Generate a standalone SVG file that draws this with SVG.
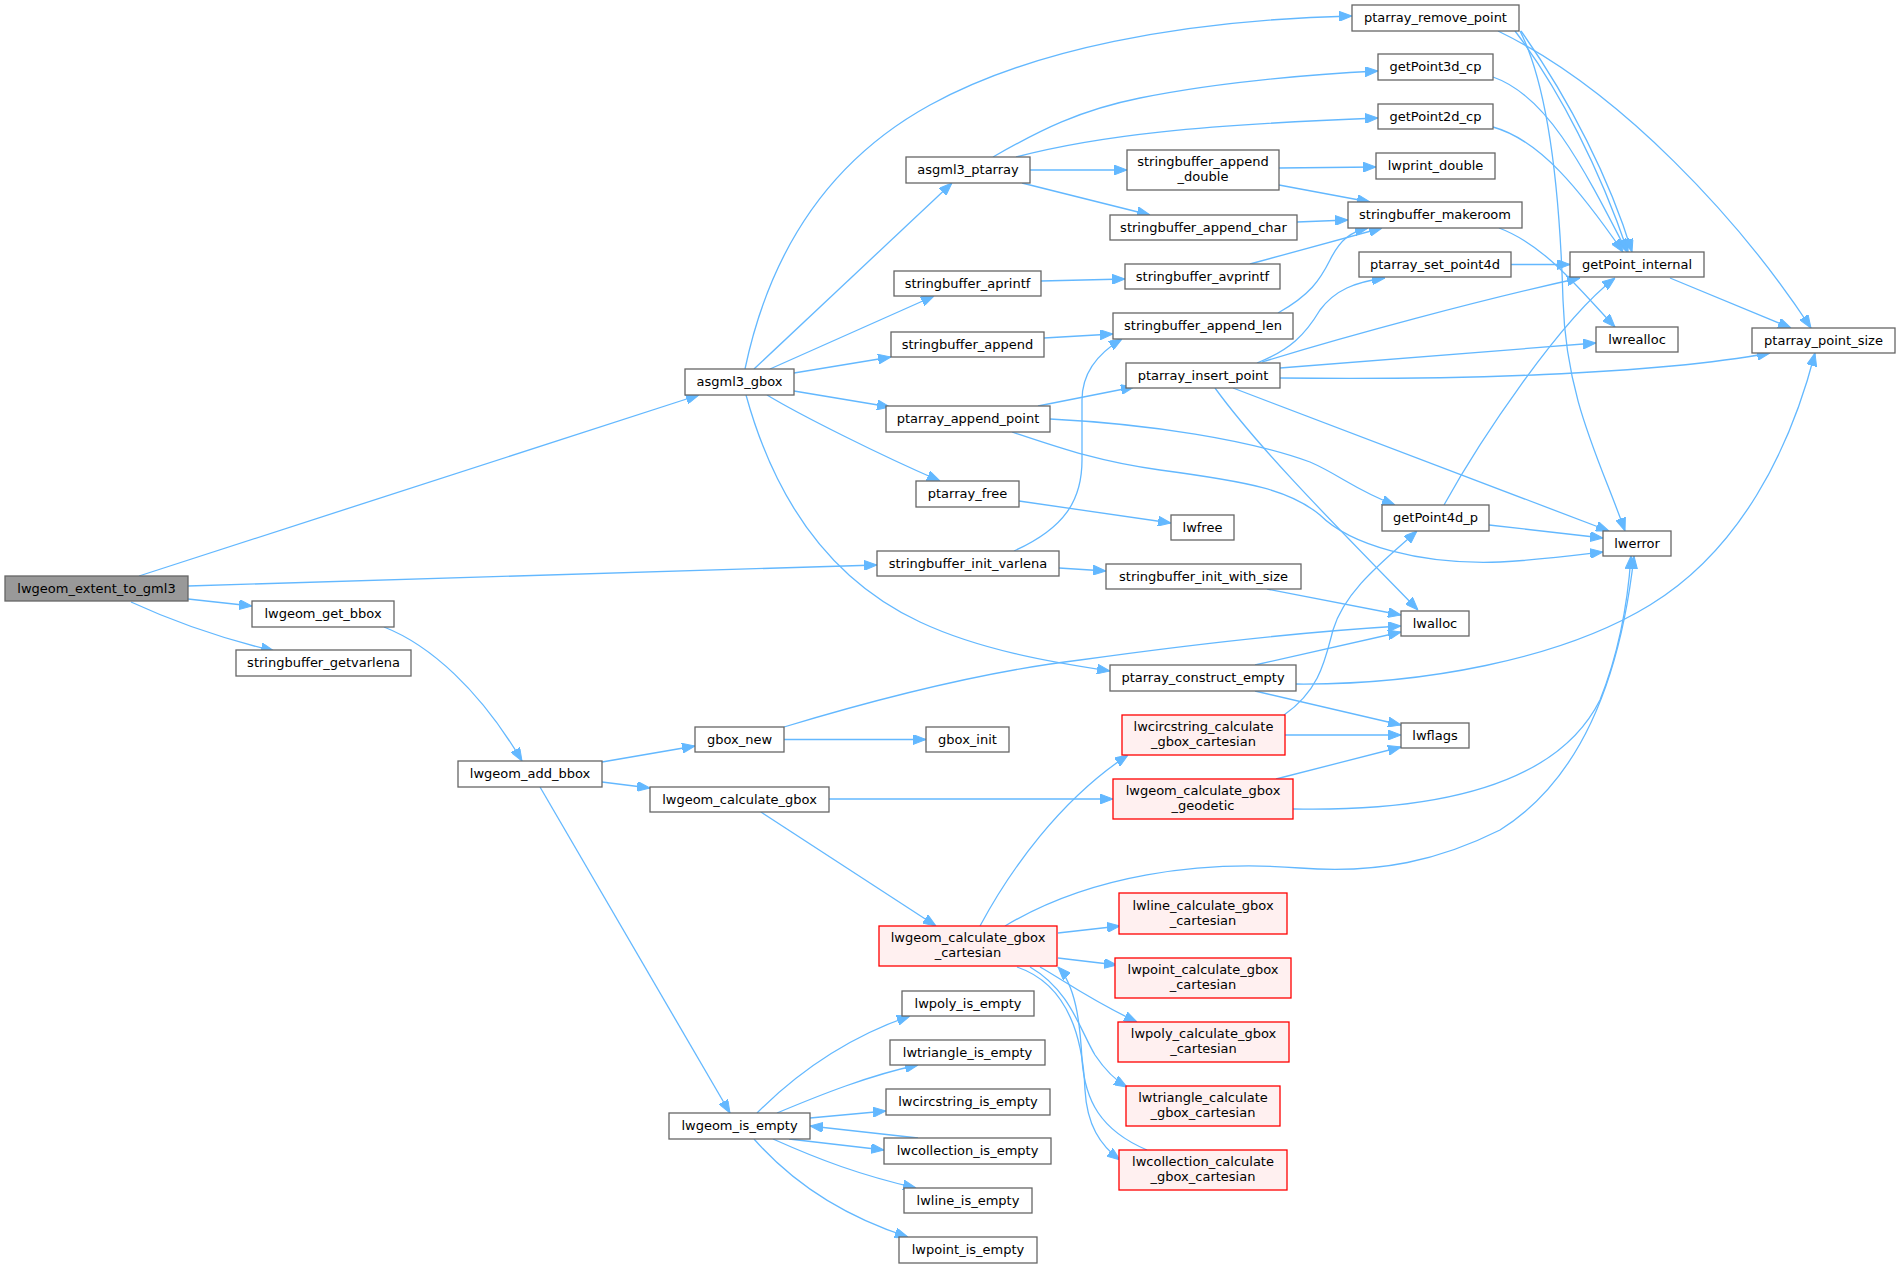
<svg xmlns="http://www.w3.org/2000/svg" width="1900" height="1268" viewBox="0 0 1900 1268">
<defs>
<marker id="arr" markerWidth="13" markerHeight="10" refX="13" refY="5" orient="auto" markerUnits="userSpaceOnUse"><path d="M0,0 L13,5 L0,10 z" fill="#63b8ff" stroke="#63b8ff" stroke-width="1"/></marker>
<style>
.n rect{fill:#ffffff;stroke:#666666;stroke-width:1.3}
.r rect{fill:#fff0f0;stroke:#ff0000;stroke-width:1.3}
.root rect{fill:#999999;stroke:#666666;stroke-width:1.3}
text{font-family:"DejaVu Sans","Liberation Sans",sans-serif;font-size:13px;text-anchor:middle;fill:#000000}
#edges path{fill:none;stroke:#63b8ff;stroke-width:1.3;marker-end:url(#arr)}
</style>
</defs>
<rect width="1900" height="1268" fill="#ffffff"/>
<g id="edges">
<path d="M139,576 L699,395"/>
<path d="M188,586 L877,565"/>
<path d="M188,599 L252,606"/>
<path d="M131,602 C170,620 220,638 274,651"/>
<path d="M384,627 C430,645 480,690 522,761"/>
<path d="M602,762 L695,746"/>
<path d="M602,782 L650,788"/>
<path d="M540,787 L730,1113"/>
<path d="M784,739.5 L926,739.5"/>
<path d="M784,727 C880,698 980,672 1080,660 C1180,646 1300,632 1401,626"/>
<path d="M829,799 L1113,799"/>
<path d="M761,812 L936,926"/>
<path d="M745,369 C770,250 830,160 930,105 C1030,50 1180,20 1352,16"/>
<path d="M754,369 L952,183"/>
<path d="M770,369 L934,296"/>
<path d="M794,373 L891,357"/>
<path d="M794,391 L890,407"/>
<path d="M767,395 C800,415 880,455 940,481"/>
<path d="M746,395 C775,500 830,580 920,622 C980,650 1050,662 1110,671"/>
<path d="M993,157 C1040,130 1080,110 1140,98 C1220,82 1300,75 1378,71"/>
<path d="M1016,157 C1100,135 1200,125 1378,118"/>
<path d="M1030,170 L1127,170"/>
<path d="M1022,183 L1150,215"/>
<path d="M1279,168 L1376,167"/>
<path d="M1279,185 L1370,202"/>
<path d="M1297,222 L1348,220"/>
<path d="M1041,281 L1125,279"/>
<path d="M1250,264 L1382,228"/>
<path d="M1044,338 L1113,334"/>
<path d="M1278,313 C1310,295 1320,280 1330,260 C1340,240 1350,232 1368,228"/>
<path d="M1038,406 L1134,387"/>
<path d="M1050,419 C1150,424 1250,440 1310,462 C1340,475 1355,490 1395,505"/>
<path d="M1012,432 C1060,448 1100,462 1160,470 C1250,482 1290,490 1320,515 C1350,545 1420,565 1500,562 C1540,560 1570,556 1603,552"/>
<path d="M1019,501 L1171,523"/>
<path d="M1014,551 C1065,528 1082,500 1082,460 L1082,400 C1082,375 1095,355 1122,339"/>
<path d="M1059,568 L1106,571"/>
<path d="M1267,589 L1401,615"/>
<path d="M1255,665 L1401,632"/>
<path d="M1255,691 L1401,725"/>
<path d="M1296,684 C1420,685 1560,660 1650,605 C1740,550 1790,450 1815,353"/>
<path d="M1257,363 C1290,350 1305,335 1320,310 C1335,290 1355,282 1385,278"/>
<path d="M1262,362 C1350,335 1480,300 1580,278"/>
<path d="M1280,368 L1596,343"/>
<path d="M1280,378 C1450,380 1650,375 1770,353"/>
<path d="M1233,388 L1609,531"/>
<path d="M1215,388 C1260,450 1340,530 1418,610"/>
<path d="M1511,264.5 L1570,264.5"/>
<path d="M1493,77 C1545,95 1580,160 1627,252"/>
<path d="M1493,127 C1540,140 1580,190 1623,252"/>
<path d="M1515,31 C1560,90 1600,170 1628,252"/>
<path d="M1521,31 C1570,100 1610,180 1632,252"/>
<path d="M1520,31 C1550,90 1560,200 1563,300 C1566,400 1600,460 1625,531"/>
<path d="M1498,31 C1620,90 1740,220 1811,328"/>
<path d="M1499,228 C1545,245 1580,290 1615,327"/>
<path d="M1670,278 L1791,328"/>
<path d="M1444,505 C1480,440 1560,320 1615,278"/>
<path d="M1489,525 L1603,538"/>
<path d="M1284,715 C1320,690 1325,660 1333,630 C1345,590 1385,560 1417,531"/>
<path d="M1285,735 L1401,735"/>
<path d="M1276,779 L1401,747"/>
<path d="M1293,809 C1450,812 1560,780 1600,700 C1620,650 1628,600 1631,556"/>
<path d="M980,926 C1010,870 1060,800 1128,755"/>
<path d="M1005,926 C1090,875 1200,860 1300,868 C1380,874 1440,860 1500,830 C1580,780 1620,680 1634,556"/>
<path d="M1058,933 L1120,926"/>
<path d="M1058,958 L1117,965"/>
<path d="M1040,967 C1060,978 1090,1000 1137,1022"/>
<path d="M1030,967 C1070,990 1080,1030 1095,1055 C1105,1070 1115,1080 1127,1087"/>
<path d="M1017,967 C1070,985 1083,1040 1085,1090 C1087,1125 1100,1145 1120,1160"/>
<path d="M1147,1150 C1100,1130 1085,1100 1082,1060 C1080,1020 1075,985 1058,967"/>
<path d="M757,1113 C790,1080 840,1040 910,1016"/>
<path d="M777,1113 C820,1095 870,1075 918,1065"/>
<path d="M810,1118 L886,1111"/>
<path d="M789,1139 L884,1150"/>
<path d="M918,1138 L810,1126"/>
<path d="M773,1139 C820,1160 860,1175 916,1188"/>
<path d="M754,1139 C790,1180 840,1215 908,1237"/>
</g>
<g id="lwgeom_extent_to_gml3" class="root"><rect x="5" y="576" width="183" height="25"/><text x="96.5" y="592.5">lwgeom_extent_to_gml3</text></g>
<g id="asgml3_gbox" class="n"><rect x="685" y="369" width="109" height="26"/><text x="739.5" y="386">asgml3_gbox</text></g>
<g id="asgml3_ptarray" class="n"><rect x="906" y="157" width="124" height="26"/><text x="968" y="174">asgml3_ptarray</text></g>
<g id="stringbuffer_append_double" class="n"><rect x="1127" y="150" width="152" height="40"/><text x="1203" y="166">stringbuffer_append</text><text x="1203" y="181">_double</text></g>
<g id="stringbuffer_append_char" class="n"><rect x="1110" y="215" width="187" height="25"/><text x="1203.5" y="231.5">stringbuffer_append_char</text></g>
<g id="stringbuffer_aprintf" class="n"><rect x="894" y="271" width="147" height="25"/><text x="967.5" y="287.5">stringbuffer_aprintf</text></g>
<g id="stringbuffer_avprintf" class="n"><rect x="1125" y="264" width="155" height="25"/><text x="1202.5" y="280.5">stringbuffer_avprintf</text></g>
<g id="stringbuffer_append" class="n"><rect x="891" y="332" width="153" height="25"/><text x="967.5" y="348.5">stringbuffer_append</text></g>
<g id="stringbuffer_append_len" class="n"><rect x="1113" y="313" width="180" height="26"/><text x="1203" y="330">stringbuffer_append_len</text></g>
<g id="ptarray_insert_point" class="n"><rect x="1126" y="363" width="154" height="25"/><text x="1203" y="379.5">ptarray_insert_point</text></g>
<g id="ptarray_append_point" class="n"><rect x="886" y="406" width="164" height="26"/><text x="968" y="423">ptarray_append_point</text></g>
<g id="ptarray_remove_point" class="n"><rect x="1352" y="5" width="167" height="26"/><text x="1435.5" y="22">ptarray_remove_point</text></g>
<g id="getPoint3d_cp" class="n"><rect x="1378" y="54" width="115" height="26"/><text x="1435.5" y="71">getPoint3d_cp</text></g>
<g id="getPoint2d_cp" class="n"><rect x="1378" y="104" width="115" height="25"/><text x="1435.5" y="120.5">getPoint2d_cp</text></g>
<g id="lwprint_double" class="n"><rect x="1376" y="153" width="119" height="26"/><text x="1435.5" y="170">lwprint_double</text></g>
<g id="stringbuffer_makeroom" class="n"><rect x="1348" y="202" width="174" height="26"/><text x="1435" y="219">stringbuffer_makeroom</text></g>
<g id="ptarray_set_point4d" class="n"><rect x="1359" y="252" width="152" height="25"/><text x="1435" y="268.5">ptarray_set_point4d</text></g>
<g id="getPoint_internal" class="n"><rect x="1570" y="252" width="134" height="25"/><text x="1637" y="268.5">getPoint_internal</text></g>
<g id="lwrealloc" class="n"><rect x="1596" y="327" width="82" height="25"/><text x="1637" y="343.5">lwrealloc</text></g>
<g id="ptarray_point_size" class="n"><rect x="1752" y="328" width="143" height="25"/><text x="1823.5" y="344.5">ptarray_point_size</text></g>
<g id="lwgeom_get_bbox" class="n"><rect x="252" y="601" width="142" height="26"/><text x="323" y="618">lwgeom_get_bbox</text></g>
<g id="stringbuffer_getvarlena" class="n"><rect x="236" y="650" width="175" height="26"/><text x="323.5" y="667">stringbuffer_getvarlena</text></g>
<g id="lwgeom_add_bbox" class="n"><rect x="458" y="761" width="144" height="26"/><text x="530" y="778">lwgeom_add_bbox</text></g>
<g id="ptarray_free" class="n"><rect x="916" y="481" width="103" height="26"/><text x="967.5" y="498">ptarray_free</text></g>
<g id="lwfree" class="n"><rect x="1171" y="515" width="63" height="25"/><text x="1202.5" y="531.5">lwfree</text></g>
<g id="stringbuffer_init_varlena" class="n"><rect x="877" y="551" width="182" height="25"/><text x="968" y="567.5">stringbuffer_init_varlena</text></g>
<g id="stringbuffer_init_with_size" class="n"><rect x="1106" y="564" width="195" height="25"/><text x="1203.5" y="580.5">stringbuffer_init_with_size</text></g>
<g id="ptarray_construct_empty" class="n"><rect x="1110" y="665" width="186" height="26"/><text x="1203" y="682">ptarray_construct_empty</text></g>
<g id="gbox_new" class="n"><rect x="695" y="727" width="89" height="25"/><text x="739.5" y="743.5">gbox_new</text></g>
<g id="gbox_init" class="n"><rect x="926" y="727" width="83" height="25"/><text x="967.5" y="743.5">gbox_init</text></g>
<g id="lwcircstring_calculate_gbox_cartesian" class="r"><rect x="1122" y="715" width="163" height="40"/><text x="1203.5" y="731">lwcircstring_calculate</text><text x="1203.5" y="746">_gbox_cartesian</text></g>
<g id="lwgeom_calculate_gbox" class="n"><rect x="650" y="787" width="179" height="25"/><text x="739.5" y="803.5">lwgeom_calculate_gbox</text></g>
<g id="lwgeom_calculate_gbox_geodetic" class="r"><rect x="1113" y="779" width="180" height="40"/><text x="1203" y="795">lwgeom_calculate_gbox</text><text x="1203" y="810">_geodetic</text></g>
<g id="getPoint4d_p" class="n"><rect x="1382" y="505" width="107" height="26"/><text x="1435.5" y="522">getPoint4d_p</text></g>
<g id="lwerror" class="n"><rect x="1603" y="531" width="68" height="25"/><text x="1637" y="547.5">lwerror</text></g>
<g id="lwalloc" class="n"><rect x="1401" y="611" width="68" height="25"/><text x="1435" y="627.5">lwalloc</text></g>
<g id="lwflags" class="n"><rect x="1401" y="723" width="68" height="25"/><text x="1435" y="739.5">lwflags</text></g>
<g id="lwgeom_calculate_gbox_cartesian" class="r"><rect x="879" y="926" width="178" height="40"/><text x="968" y="942">lwgeom_calculate_gbox</text><text x="968" y="957">_cartesian</text></g>
<g id="lwline_calculate_gbox_cartesian" class="r"><rect x="1119" y="893" width="168" height="41"/><text x="1203" y="909.5">lwline_calculate_gbox</text><text x="1203" y="924.5">_cartesian</text></g>
<g id="lwpoint_calculate_gbox_cartesian" class="r"><rect x="1115" y="958" width="176" height="40"/><text x="1203" y="974">lwpoint_calculate_gbox</text><text x="1203" y="989">_cartesian</text></g>
<g id="lwpoly_calculate_gbox_cartesian" class="r"><rect x="1118" y="1022" width="171" height="40"/><text x="1203.5" y="1038">lwpoly_calculate_gbox</text><text x="1203.5" y="1053">_cartesian</text></g>
<g id="lwtriangle_calculate_gbox_cartesian" class="r"><rect x="1126" y="1086" width="154" height="40"/><text x="1203" y="1102">lwtriangle_calculate</text><text x="1203" y="1117">_gbox_cartesian</text></g>
<g id="lwcollection_calculate_gbox_cartesian" class="r"><rect x="1119" y="1150" width="168" height="40"/><text x="1203" y="1166">lwcollection_calculate</text><text x="1203" y="1181">_gbox_cartesian</text></g>
<g id="lwpoly_is_empty" class="n"><rect x="902" y="991" width="132" height="25"/><text x="968" y="1007.5">lwpoly_is_empty</text></g>
<g id="lwtriangle_is_empty" class="n"><rect x="890" y="1040" width="155" height="25"/><text x="967.5" y="1056.5">lwtriangle_is_empty</text></g>
<g id="lwcircstring_is_empty" class="n"><rect x="886" y="1089" width="164" height="26"/><text x="968" y="1106">lwcircstring_is_empty</text></g>
<g id="lwgeom_is_empty" class="n"><rect x="669" y="1113" width="141" height="26"/><text x="739.5" y="1130">lwgeom_is_empty</text></g>
<g id="lwcollection_is_empty" class="n"><rect x="884" y="1138" width="167" height="26"/><text x="967.5" y="1155">lwcollection_is_empty</text></g>
<g id="lwline_is_empty" class="n"><rect x="904" y="1188" width="128" height="25"/><text x="968" y="1204.5">lwline_is_empty</text></g>
<g id="lwpoint_is_empty" class="n"><rect x="899" y="1237" width="138" height="26"/><text x="968" y="1254">lwpoint_is_empty</text></g>
</svg>
